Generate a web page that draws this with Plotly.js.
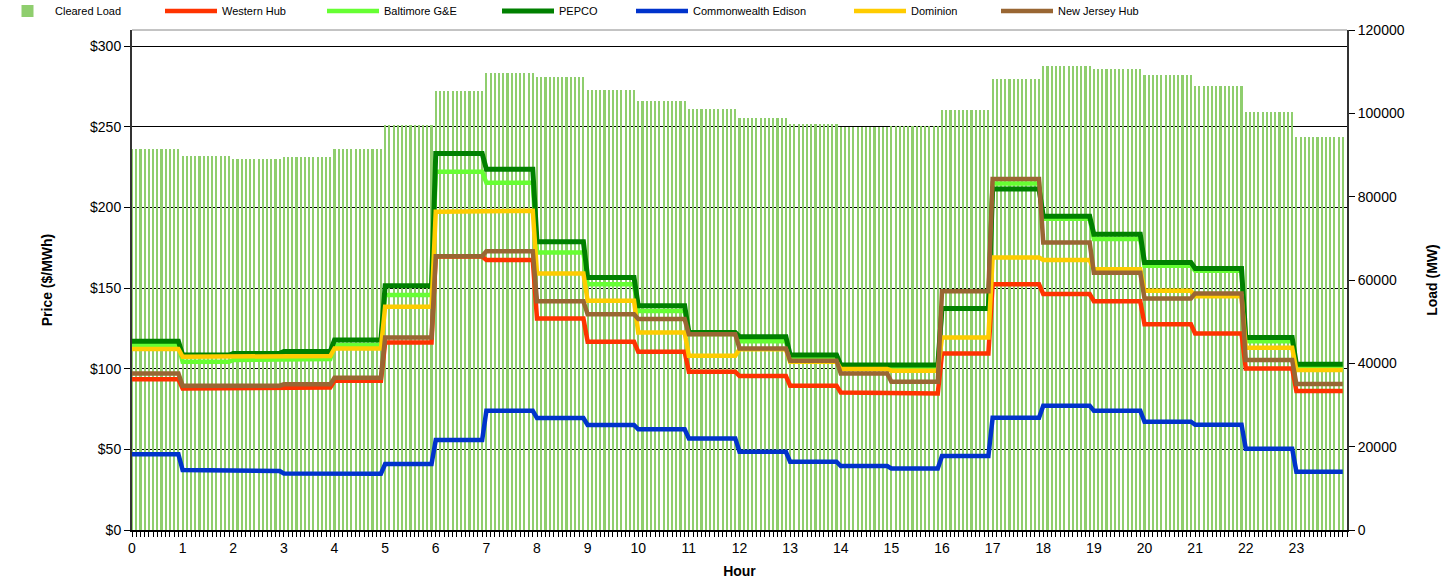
<!DOCTYPE html>
<html>
<head>
<meta charset="utf-8">
<script src="https://cdn.plot.ly/plotly-3.0.1.min.js"></script>
<style>
  html, body { margin: 0; padding: 0; background: #fff; }
  #chart { width: 1446px; height: 579px; }
</style>
</head>
<body>
<div id="chart"></div>
<script>
// Hourly values (each hour holds 12 five-minute intervals)
const hourLabels = ["0","1","2","3","4","5","6","7","8","9","10","11","12","13","14","15","16","17","18","19","20","21","22","23"];
const clearedLoad = [91440, 89760, 89100, 89500, 91440, 97200, 105400, 109700, 108700, 105600, 103000, 101000, 98900, 97400, 96700, 97000, 100800, 108200, 111400, 110600, 109200, 106600, 100300, 94300];
const westernHub = [93.4, 87.8, 87.8, 88.4, 92.5, 116.3, 169.5, 167.4, 131.2, 116.7, 110.5, 98.1, 95.5, 89.5, 85.3, 84.7, 109.5, 152.3, 146.3, 141.9, 127.5, 121.9, 100.2, 86.2];
const baltimoreGE = [114.5, 104.3, 105.4, 106.0, 114.7, 145.7, 222.1, 215.3, 172.1, 152.3, 135.8, 121.5, 117.1, 106.4, 100.8, 100.5, 137.5, 214.9, 193.0, 180.4, 163.8, 160.7, 117.1, 101.0];
const pepco = [117.0, 108.5, 109.5, 110.7, 117.8, 151.4, 233.5, 223.6, 178.7, 156.6, 139.0, 122.5, 119.8, 108.5, 102.3, 102.3, 137.4, 211.4, 194.6, 183.3, 165.9, 162.2, 119.4, 102.7];
const comEd = [46.9, 37.2, 36.6, 35.1, 34.9, 40.9, 55.8, 73.9, 69.4, 65.1, 62.4, 56.8, 48.5, 42.3, 39.7, 38.2, 45.9, 69.6, 77.1, 73.9, 67.1, 65.3, 50.4, 36.1];
const dominion = [112.2, 107.4, 107.4, 107.9, 112.6, 138.4, 197.3, 198.0, 159.1, 142.1, 122.5, 108.0, 112.0, 104.3, 99.8, 98.8, 119.4, 169.0, 167.4, 161.6, 148.3, 145.0, 113.0, 99.2];
const njHub = [97.1, 89.5, 89.5, 90.3, 94.4, 119.4, 169.8, 172.9, 141.9, 133.7, 130.8, 121.3, 112.6, 105.0, 97.1, 91.9, 148.1, 217.6, 178.3, 159.5, 143.6, 146.7, 105.4, 90.5];
const intervalsPerHour = 12;

// Expand hourly values to the 5-minute intervals (value held through the hour)
const xs = [];
for (let h = 0; h < hourLabels.length; h++) {
  for (let k = 0; k < intervalsPerHour; k++) xs.push(h + k / intervalsPerHour);
}
function expand(arr) {
  const out = [];
  arr.forEach(v => { for (let k = 0; k < intervalsPerHour; k++) out.push(v); });
  return out;
}

const FONT = "Liberation Sans, Arial, sans-serif";
const lineW = 4.5;

function lineTrace(name, arr, color, legendId, w) {
  return {
    type: "scatter", mode: "lines", name: name,
    x: xs, y: expand(arr), yaxis: "y2",
    line: { color: color, width: w || lineW },
    legend: legendId, hoverinfo: "skip"
  };
}

const traces = [
  {
    type: "bar", name: "Cleared Load", x: xs, y: expand(clearedLoad), yaxis: "y",
    width: 0.042, marker: { color: "#8fce6e", line: { width: 0 } },
    legend: "legend", hoverinfo: "skip"
  },
  lineTrace("Western Hub", westernHub, "#ff3300", "legend2"),
  lineTrace("Baltimore G&E", baltimoreGE, "#66ff33", "legend3"),
  lineTrace("PEPCO", pepco, "#008000", "legend4", 5),
  lineTrace("Commonwealth Edison", comEd, "#0033cc", "legend5"),
  lineTrace("Dominion", dominion, "#ffcc00", "legend6"),
  lineTrace("New Jersey Hub", njHub, "#996633", "legend7")
];

function legendAt(px, iw) {
  return {
    xref: "container", yref: "container",
    x: Math.max(0, px) / 1446, xanchor: "left", y: 1 - 11 / 579, yanchor: "middle",
    orientation: "h", bgcolor: "rgba(0,0,0,0)", borderwidth: 0,
    font: { family: FONT, size: 11, color: "#000" }, itemwidth: iw,
    itemclick: false, itemdoubleclick: false
  };
}
const legendTextStarts = [55, 222, 384, 559, 693, 911, 1058];

const layout = {
  width: 1446, height: 579,
  margin: { l: 132, r: 99, t: 30, b: 49, pad: 0 },
  paper_bgcolor: "#fff", plot_bgcolor: "#fff",
  font: { family: FONT, size: 14, color: "#000" },
  bargap: 0,
  xaxis: {
    type: "linear", range: [0, 24],
    tickvals: hourLabels.map((_, i) => i), ticktext: hourLabels,
    ticks: "outside", ticklen: 5, tickcolor: "#000", tickwidth: 1,
    minor: { dtick: 1 / intervalsPerHour, ticks: "outside", ticklen: 5, tickcolor: "#000", tickwidth: 1, showgrid: false },
    showgrid: false, zeroline: false,
    showline: true, linecolor: "#000", linewidth: 1.5,
    tickfont: { family: FONT, size: 14, color: "#000" },
    title: { text: "<b>Hour</b>", font: { family: FONT, size: 14, color: "#000" }, standoff: 11 },
    automargin: false
  },
  // Load axis (right)
  yaxis: {
    side: "right", range: [0, 120000],
    tick0: 0, dtick: 20000, tickformat: "d",
    ticks: "outside", ticklen: 6, tickcolor: "#000",
    showgrid: false, zeroline: false, showline: true, linecolor: "#333", linewidth: 2,
    tickfont: { family: FONT, size: 14, color: "#000" },
    title: { text: "<b>Load (MW)</b>", font: { family: FONT, size: 14, color: "#000" }, standoff: 23 },
    automargin: false
  },
  // Price axis (left)
  yaxis2: {
    overlaying: "y", side: "left", range: [0, 310],
    tick0: 0, dtick: 50, tickprefix: "$", tickformat: "d",
    ticks: "outside", ticklen: 6, tickcolor: "#000",
    showgrid: true, gridcolor: "#000", gridwidth: 1,
    zeroline: false, showline: true, linecolor: "#333", linewidth: 2,
    tickfont: { family: FONT, size: 14, color: "#000" },
    title: { text: "<b>Price ($/MWh)</b>", font: { family: FONT, size: 14, color: "#000" }, standoff: 34 },
    automargin: false
  },
  shapes: [
    { type: "line", xref: "paper", yref: "paper", x0: 0, x1: 1, y0: 1, y1: 1, line: { color: "#888", width: 1 } }
  ],
  showlegend: true
};
["legend", "legend2", "legend3", "legend4", "legend5", "legend6", "legend7"].forEach((id, i) => {
  const iw = i === 0 ? 45 : 52;
  layout[id] = legendAt(legendTextStarts[i] - (iw + 10), iw);
});

Plotly.newPlot("chart", traces, layout, { displayModeBar: false, staticPlot: true });
</script>
</body>
</html>
